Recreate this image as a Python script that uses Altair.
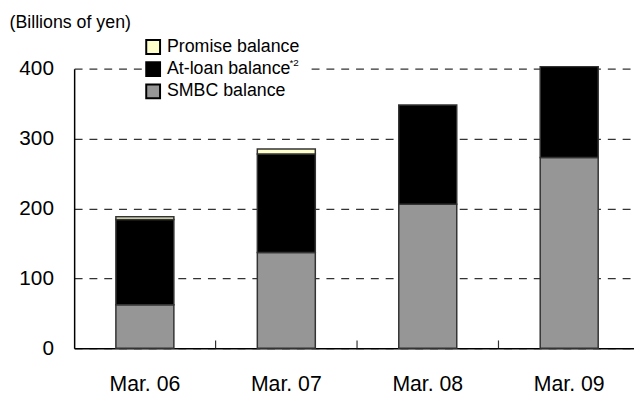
import altair as alt
import pandas as pd

dates = ["Mar. 06", "Mar. 07", "Mar. 08", "Mar. 09"]
smbc = [62, 137, 206, 273]
atloan = [122, 141, 142, 130]
promise = [4, 7, 0, 0]

series_names = ["SMBC balance", "At-loan balance", "Promise balance"]
legend_order = ["Promise balance", "At-loan balance", "SMBC balance"]
colors = ["#FFFFCC", "#000000", "#969696"]
y_ticks = [0, 100, 200, 300, 400]
band_edges = [1, 2, 3]

rows = []
for i, d in enumerate(dates):
    for k, (name, vals) in enumerate(zip(series_names, [smbc, atloan, promise])):
        if vals[i] > 0:
            rows.append({"date": d, "series": name, "value": vals[i], "k": k})
df = pd.DataFrame(rows)

FONT = "Liberation Sans, Arial, sans-serif"
XRANGE = [0, 573]

# white backdrop behind the legend (hides the 400 gridline there, as in the original)
backdrop = alt.Chart(pd.DataFrame({"a": [0]})).mark_rect(color="white").encode(
    x=alt.value(70), x2=alt.value(236), y=alt.value(-34), y2=alt.value(30)
)

bars = alt.Chart(df).mark_bar(stroke="#333333", strokeWidth=1.5).encode(
    x=alt.X("date:N", sort=dates,
            scale=alt.Scale(range=XRANGE, paddingInner=0.59, paddingOuter=0.295),
            axis=alt.Axis(title=None, labelAngle=0, ticks=False, domainColor="#000000",
                          domainWidth=1.5, labelPadding=26, labelFontSize=21.5,
                          labelFont=FONT, labelColor="#000000")),
    y=alt.Y("value:Q", stack="zero",
            scale=alt.Scale(domain=[0, 400], nice=False),
            axis=alt.Axis(values=y_ticks, title="(Billions of yen)", titleAngle=0,
                          titleAlign="left", titleBaseline="middle", titleX=-66, titleY=-47,
                          titleFont=FONT, titleFontSize=18, titleFontWeight="normal",
                          titleColor="#000000",
                          grid=True, gridDash=[8, 7], gridColor="#333333", gridWidth=1.2,
                          ticks=False, domainColor="#000000", domainWidth=1.5,
                          labelPadding=21, labelFontSize=21, labelFont=FONT,
                          labelColor="#000000")),
    color=alt.Color("series:N", scale=alt.Scale(domain=legend_order, range=colors),
                    legend=alt.Legend(title=None, orient="none", legendX=71, legendY=-31,
                                      symbolType="square", symbolSize=196,
                                      symbolStrokeColor="#000000", symbolStrokeWidth=2,
                                      labelFont=FONT, labelFontSize=18, labelColor="#000000",
                                      labelOffset=5, rowPadding=0.5, padding=0)),
    order=alt.Order("k:Q", sort="ascending"),
)

edge_df = pd.DataFrame({"edge": band_edges})
edge_ticks = alt.Chart(edge_df).mark_rule(color="#333333", strokeWidth=1.2).encode(
    x=alt.X("edge:Q", scale=alt.Scale(domain=[0, 4], range=XRANGE), axis=None),
    y=alt.datum(0),
    y2=alt.datum(11),
)

note = alt.Chart(pd.DataFrame({"t": ["*2"]})).mark_text(
    font=FONT, fontSize=10, align="left", baseline="middle", color="#000000"
).encode(x=alt.value(218), y=alt.value(-6), text="t:N")

chart = alt.layer(backdrop, bars, edge_ticks, note).resolve_scale(x="independent").properties(
    width=567, height=283,
    autosize=alt.AutoSizeParams(type="none"),
    padding={"left": 67, "top": 59, "right": 0, "bottom": 48},
).configure_view(strokeWidth=0)

chart.save("out.html", embed_options={"renderer": "svg", "actions": False})
